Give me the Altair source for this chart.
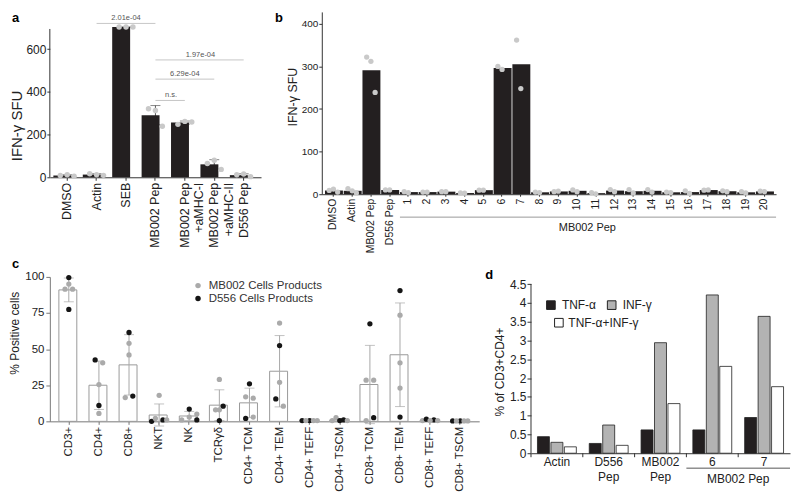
import altair as alt
import pandas as pd

FONT = "Liberation Sans"
INK = "#231f20"
TXT = "#222222"

# ---------------- Panel a data ----------------
a_cats = ["DMSO", "Actin", "SEB", "MB002 Pep", "MB002 Pep +aMHC-I",
          "MB002 Pep +aMHC-II", "D556 Pep"]
a_points = [[8, 12, 5], [17, 12, 9], [704, 704, 704], [321, 313, 239],
            [248, 262, 259], [65, 80, 37], [12, 15, 3]]
a_br_from = ["Actin", "MB002 Pep", "MB002 Pep", "MB002 Pep"]
a_br_to = ["MB002 Pep", "D556 Pep", "MB002 Pep +aMHC-II", "MB002 Pep +aMHC-I"]
a_br_level = [721, 550, 460, 360]
a_br_text = ["2.01e-04", "1.97e-04", "6.29e-04", "n.s."]
a_br_mid = ["SEB", "MB002 Pep +aMHC-II", "MB002 Pep +aMHC-I", "MB002 Pep +aMHC-I"]
a_br_centered = [True, False, True, False]

# ---------------- Panel b data ----------------
b_cats = ["DMSO", "Actin", "MB002 Pep", "D556 Pep"] + [str(i) for i in range(1, 21)]
b_points = [[9, 12, 5], [13, 8, 3], [322, 312, 239], [10, 10],
            [6, 4], [5, 5], [6, 6], [3, 2.5], [9.5, 9.5], [300, 293], [362, 248],
            [5, 4], [6, 7], [10, 6], [4, 1], [11, 6], [11, 3], [11, 5], [5, 4],
            [8, 2], [9.5, 10], [8, 6], [6, 3], [7, 6]]

# ---------------- Panel c data ----------------
c_cats = ["CD3+", "CD4+", "CD8+", "NKT", "NK", "TCRγδ", "CD4+ TCM", "CD4+ TEM",
          "CD4+ TEFF", "CD4+ TSCM", "CD8+ TCM", "CD8+ TEM", "CD8+ TEFF", "CD8+ TSCM"]
c_vals = [[99.5, 95, 91.5, 91.5, 77.5], [42.5, 40.5, 25.5, 11, 5.5],
          [61.5, 54, 46, 16.5, 17.5], [18, 0, 2, 1, 1], [8.5, 5, 3, 1, 1],
          [29, 10.5, 8, 8, 0.5], [26, 17, 16, 2, 3], [68, 52.5, 27, 15.5, 10.5],
          [0.5, 0.5, 0.5, 0.5, 0.5], [0.5, 2.5, 0.5, 1, 0.5],
          [67.5, 28.5, 28.5, 0.5, 2.5], [90.5, 73.5, 40.5, 23, 3],
          [0.5, 1.5, 1, 0.5, 0.5], [0.3, 0.3, 0.3, 0.3, 0.3]]
c_grp = [["D", "M", "M", "M", "D"], ["D", "M", "M", "D", "M"], ["D", "M", "M", "M", "D"],
         ["M", "D", "M", "D", "M"], ["D", "M", "M", "M", "D"], ["M", "D", "M", "M", "D"],
         ["D", "M", "M", "D", "M"], ["M", "D", "M", "D", "M"], ["D", "D", "M", "M", "M"],
         ["M", "M", "D", "D", "M"], ["D", "M", "M", "M", "D"], ["D", "M", "M", "M", "D"],
         ["M", "D", "D", "M", "M"], ["D", "D", "M", "M", "M"]]
c_lane = [[3, 3, 2, 4, 3], [2, 4, 3, 3, 3], [3, 3, 3, 2, 4], [3, 1, 2, 4, 5],
          [3, 5, 3, 1, 5], [3, 4, 2, 3, 3], [3, 2, 4, 2, 4], [3, 3, 3, 2, 4],
          [1, 3, 4, 5, 2], [1, 2, 3, 4, 5], [3, 2, 4, 2, 4], [3, 3, 3, 3, 3],
          [1, 2, 4, 5, 3], [1, 3, 4, 5, 2]]
c_group_names = {"M": "MB002 Cells Products", "D": "D556 Cells Products"}

# ---------------- Panel d data ----------------
d_groups = ["Actin", "D556 Pep", "MB002 Pep", "6", "7"]
d_series = ["TNF-α", "INF-γ", "TNF-α+INF-γ"]
d_tnf = [0.44, 0.26, 0.62, 0.62, 0.95]
d_inf = [0.29, 0.75, 2.94, 4.21, 3.64]
d_both = [0.17, 0.21, 1.32, 2.31, 1.77]


def letter(ch, x, y):
    return alt.Chart(pd.DataFrame({"t": [ch]})).mark_text(
        font=FONT, fontSize=13, fontWeight="bold", align="left", baseline="top", color="#000"
    ).encode(text="t:N", x=alt.value(x), y=alt.value(y))


SPLIT_PLUS = ("indexof(datum.label, ' +') > 0 ? [slice(datum.label, 0, indexof(datum.label, ' +')), "
              "slice(datum.label, indexof(datum.label, ' +') + 1)] : datum.label")

# ================= Panel a =================
A_W, A_H = 212, 166
a_df = pd.DataFrame([{"cat": c, "rep": i + 1, "v": v}
                     for c, vs in zip(a_cats, a_points) for i, v in enumerate(vs)])
a_xs = alt.Scale(domain=a_cats, paddingInner=0.06, paddingOuter=0.12)
a_xa = alt.Axis(title=None, labelAngle=-90, labelFontSize=12.5, labelPadding=2, tickSize=3,
                labelExpr=SPLIT_PLUS, labelLineHeight=14.5)
a_ys = alt.Scale(domain=[0, 775], nice=False)
a_ya = alt.Axis(title="IFN-γ SFU", values=[0, 200, 400, 600], domain=False, tickSize=3,
                labelPadding=1, labelFontSize=12, titleFontSize=15, titlePadding=1, titleY=114)


def ax(f, **kw):
    return alt.X(f, scale=a_xs, axis=a_xa, **kw)


def ay(f):
    return alt.Y(f, scale=a_ys, axis=a_ya)


a_err = alt.Chart(a_df).mark_errorbar(extent="stdev", color="#555555", ticks={"size": 10}).encode(
    x=ax("cat:N"), y=ay("v:Q"))
a_bar = alt.Chart(a_df).mark_bar(color=INK).encode(x=ax("cat:N"), y=ay("mean(v):Q"))
a_pts = alt.Chart(a_df).mark_circle(color="#c9c9c9", size=30, opacity=1).encode(
    x=ax("cat:N"), y=ay("v:Q"),
    xOffset=alt.XOffset("rep:O", scale=alt.Scale(type="point", padding=1.8)))
a_axisline = alt.Chart(pd.DataFrame({"lo": [0], "hi": [695]})).mark_rule(color="#333333").encode(
    x=alt.value(0), y=ay("lo:Q"), y2="hi:Q")
a_br = pd.DataFrame({"from": a_br_from, "to": a_br_to, "level": a_br_level,
                     "text": a_br_text, "mid": a_br_mid, "centered": a_br_centered})
a_br_rule = alt.Chart(a_br).mark_rule(color="#b8b8b8", strokeWidth=0.8).encode(
    x=ax("from:N"), x2="to:N", y=ay("level:Q"))
a_br_t1 = alt.Chart(a_br[a_br["centered"]]).mark_text(
    fontSize=7.5, color="#555555", baseline="bottom", dy=-1).encode(
    x=ax("mid:N"), y=ay("level:Q"), text="text:N")
a_br_t2 = alt.Chart(a_br[~a_br["centered"]]).mark_text(
    fontSize=7.5, color="#555555", baseline="bottom", dy=-1).encode(
    x=ax("mid:N", bandPosition=0), y=ay("level:Q"), text="text:N")
panel_a = alt.layer(a_err, a_bar, a_pts, a_axisline, a_br_rule, a_br_t1, a_br_t2,
                    letter("a", -38, 0)).properties(width=A_W, height=A_H)

# ================= Panel b =================
B_W, B_H = 456, 183
b_df = pd.DataFrame([{"cat": c, "rep": i + 1, "v": v}
                     for c, vs in zip(b_cats, b_points) for i, v in enumerate(vs)])
b_xs = alt.Scale(domain=b_cats, paddingInner=0.1, paddingOuter=0.17)
b_xa = alt.Axis(title=None, labelAngle=-90, labelFontSize=10.5, labelPadding=2, tickSize=2)
b_ys = alt.Scale(domain=[0, 428], nice=False)
b_ya = alt.Axis(title="IFN-γ SFU", values=[0, 100, 200, 300, 400], tickSize=3, labelPadding=1,
                labelFontSize=10, titleFontSize=12.5, titlePadding=2, titleY=85)


def bx(f, **kw):
    return alt.X(f, scale=b_xs, axis=b_xa, **kw)


def by(f):
    return alt.Y(f, scale=b_ys, axis=b_ya)


b_bar = alt.Chart(b_df).mark_bar(color=INK).encode(x=bx("cat:N"), y=by("mean(v):Q"))
b_pts = alt.Chart(b_df).mark_circle(color="#c9c9c9", size=28, opacity=1).encode(
    x=bx("cat:N"), y=by("v:Q"),
    xOffset=alt.XOffset("rep:O", scale=alt.Scale(type="point", padding=1.1)))
b_gline = alt.Chart(pd.DataFrame({"cat": ["1"]})).mark_rule(color="#999999", strokeWidth=1).encode(
    x=bx("cat:N", bandPosition=0), x2=alt.value(B_W), y=alt.value(B_H + 23))
b_glabel = alt.Chart(pd.DataFrame({"cat": ["11"], "t": ["MB002 Pep"]})).mark_text(
    fontSize=11, color=TXT, baseline="middle").encode(
    x=bx("cat:N", bandPosition=0), y=alt.value(B_H + 34), text="t:N")
panel_b = alt.layer(b_bar, b_pts, b_gline, b_glabel, letter("b", -47, 0)).properties(
    width=B_W, height=B_H)

# ================= Panel c =================
C_W, C_H = 431, 145
c_df = pd.DataFrame([{"cat": c, "v": v, "grp": c_group_names[g], "lane": ln}
                     for c, vs, gs, ls in zip(c_cats, c_vals, c_grp, c_lane)
                     for v, g, ln in zip(vs, gs, ls)])
c_xs = alt.Scale(domain=c_cats, paddingInner=0.34, paddingOuter=0.3)
c_xa = alt.Axis(title=None, labelAngle=-90, labelFontSize=11.5, labelPadding=2, tickSize=3,
                domainColor="#777777", tickColor="#777777")
c_ys = alt.Scale(domain=[0, 100], nice=False)
c_ya = alt.Axis(title="% Positive cells", values=[0, 25, 50, 75, 100], tickSize=4, labelPadding=2,
                labelFontSize=11.5, titleFontSize=12, titlePadding=3, titleY=56,
                domainColor="#777777", tickColor="#777777")


def cx(f, **kw):
    return alt.X(f, scale=c_xs, axis=c_xa, **kw)


def cy(f):
    return alt.Y(f, scale=c_ys, axis=c_ya)


c_bar = alt.Chart(c_df).mark_bar(fill="white", stroke="#9a9a9a", strokeWidth=1).encode(
    x=cx("cat:N"), y=cy("mean(v):Q"))
c_err = alt.Chart(c_df).mark_errorbar(extent="stdev", color="#a8a8a8", ticks={"size": 10}).encode(
    x=cx("cat:N"), y=cy("v:Q"))
c_pts = alt.Chart(c_df).mark_circle(size=28, opacity=1).encode(
    x=cx("cat:N"), y=cy("v:Q"),
    xOffset=alt.XOffset("lane:O", scale=alt.Scale(type="point", padding=0.63)),
    color=alt.Color("grp:N",
                    scale=alt.Scale(domain=list(c_group_names.values()),
                                    range=["#aaaaaa", "#151515"]),
                    legend=alt.Legend(title=None, orient="none", legendX=143, legendY=3,
                                      labelFontSize=11.5, labelColor="#333333",
                                      symbolType="circle", symbolSize=30, labelOffset=5,
                                      rowPadding=0, padding=0, symbolStrokeWidth=0)))
panel_c = alt.layer(c_bar, c_err, c_pts, letter("c", -38, -19)).properties(width=C_W, height=C_H)

# ================= Panel d =================
D_W, D_H = 260, 177
d_df = pd.DataFrame([{"g": g, "series": s, "val": v}
                     for s, arr in zip(d_series, [d_tnf, d_inf, d_both])
                     for g, v in zip(d_groups, arr)])
d_xs = alt.Scale(domain=d_groups, paddingInner=0, paddingOuter=0)
d_xa = alt.Axis(title=None, labelAngle=0, ticks=False, labelPadding=3, labelFontSize=12,
                labelLineHeight=15, labelExpr="split(datum.label, ' ')")
d_ys = alt.Scale(domain=[0, 4.69], nice=False)
d_ya = alt.Axis(title="% of CD3+CD4+", values=[0, 0.5, 1, 1.5, 2, 2.5, 3, 3.5, 4, 4.5],
                format="~g", domain=False, tickSize=4, labelPadding=1, labelFontSize=12,
                titleFontSize=12, titlePadding=3, titleY=95)


def dx(f, **kw):
    return alt.X(f, scale=d_xs, axis=d_xa, **kw)


def dy(f):
    return alt.Y(f, scale=d_ys, axis=d_ya)


d_fill_range = [INK, "#b3b3b3", "white"]
d_bar = alt.Chart(d_df).mark_bar(stroke="#222222", strokeWidth=0.8).encode(
    x=dx("g:N"), y=dy("val:Q"),
    xOffset=alt.XOffset("series:N", scale=alt.Scale(domain=d_series, paddingInner=0.11,
                                                     paddingOuter=0.48)),
    fill=alt.Fill("series:N", scale=alt.Scale(domain=d_series, range=d_fill_range),
                  legend=alt.Legend(values=d_series[:2], title=None, orient="none",
                                    legendX=14, legendY=22, direction="horizontal",
                                    symbolType="square", symbolSize=75,
                                    symbolStrokeColor="#222222", symbolStrokeWidth=1,
                                    labelFontSize=12, labelColor=TXT, labelOffset=5,
                                    columnPadding=8, padding=0)))
# second legend row (wrapped entry of the same legend)
d_leg2 = pd.DataFrame({"series": d_series[2:]})
d_leg2_sym = alt.Chart(d_leg2).mark_point(shape="square", filled=True, fill="white",
                                          stroke="#222222", strokeWidth=1, size=75,
                                          opacity=1).encode(
    x=alt.value(28), y=alt.value(46))
d_leg2_txt = alt.Chart(d_leg2).mark_text(fontSize=12, color=TXT, align="left",
                                         baseline="middle").encode(
    x=alt.value(37.5), y=alt.value(46), text="series:N")
d_axisline = alt.Chart(pd.DataFrame({"lo": [0], "hi": [4.5]})).mark_rule(color="#333333").encode(
    x=alt.value(0), y=dy("lo:Q"), y2="hi:Q")
d_ticks = alt.Chart(pd.DataFrame({"g": d_groups})).mark_rule(color="#333333").encode(
    x=dx("g:N", bandPosition=0), y=alt.value(D_H), y2=alt.value(D_H + 4))
d_gline = alt.Chart(pd.DataFrame({"g": ["6"]})).mark_rule(color="#555555").encode(
    x=dx("g:N", bandPosition=0), x2=alt.value(D_W), y=alt.value(D_H + 15))
d_glabel = alt.Chart(pd.DataFrame({"g": ["7"], "t": ["MB002 Pep"]})).mark_text(
    fontSize=12, color=TXT, baseline="middle").encode(
    x=dx("g:N", bandPosition=0), y=alt.value(D_H + 26), text="t:N")
panel_d = alt.layer(d_bar, d_axisline, d_ticks, d_gline, d_glabel, d_leg2_sym, d_leg2_txt,
                    letter("d", -46, -8)).properties(width=D_W, height=D_H)

# ================= Compose =================
res = dict(xOffset="independent", color="independent", fill="independent")
leg = dict(color="independent", fill="independent")
row1 = alt.hconcat(panel_a, panel_b, spacing=14).resolve_scale(**res)
row2 = alt.hconcat(panel_c, panel_d, spacing=6).resolve_scale(**res).resolve_legend(**leg)
chart = alt.vconcat(row1, row2, spacing=5).resolve_scale(**res).resolve_legend(**leg).properties(
    padding={"left": 0, "top": 3, "right": 0, "bottom": 0}).configure_view(
    stroke=None).configure_axis(
    labelFont=FONT, titleFont=FONT, grid=False, labelColor=TXT, titleColor=TXT,
    titleFontWeight="normal", domainColor="#333333", tickColor="#333333").configure_text(
    font=FONT).configure_legend(labelFont=FONT)

chart.save("out.html", embed_options={"renderer": "svg", "actions": False})
